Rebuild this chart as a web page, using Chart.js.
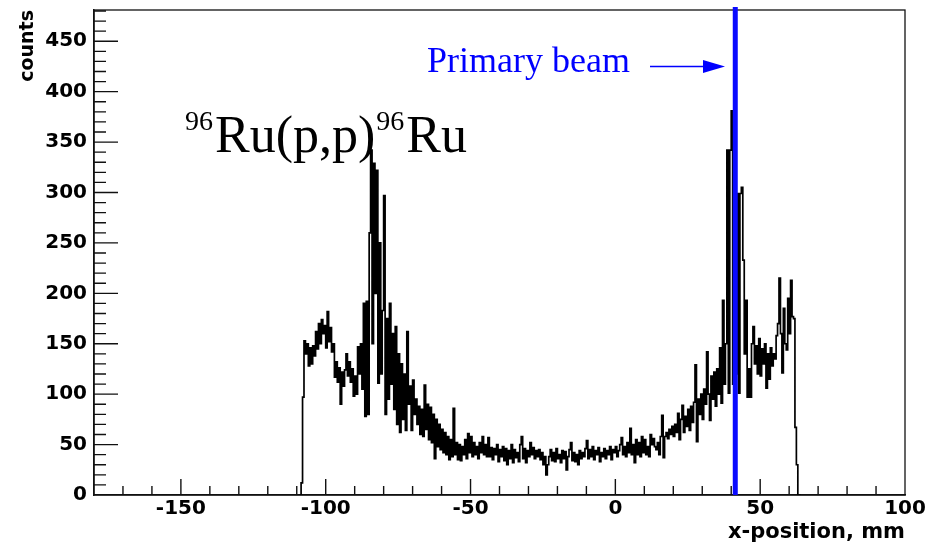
<!DOCTYPE html>
<html><head><meta charset="utf-8">
<script src="https://cdn.jsdelivr.net/npm/chart.js@4/dist/chart.umd.min.js"></script>
<style>html,body{margin:0;padding:0;background:#fff;} #wrap{width:944px;height:544px;position:relative;} canvas{display:block;}</style>
</head><body><div id="wrap"><canvas id="c" width="944" height="544"></canvas></div>
<script>
// Histogram: bin lower edge of first bin and bin width (mm)
const binLow = -109;
const binWidth = 0.5;
// counts per 0.5 mm bin, from -109 mm to 64 mm
const counts = [
  0,12,97,153,140,150,128,146,130,148,
  138,162,145,170,150,174,160,168,146,182,
  152,166,142,150,117,132,112,126,90,122,
  108,124,140,118,132,112,125,98,118,100,
  147,120,150,105,190,78,192,80,260,342,
  150,329,200,322,111,250,120,183,297,80,
  175,95,190,110,160,85,167,70,140,62,
  130,75,120,64,162,90,108,64,114,80,
  95,70,88,60,85,58,109,65,90,55,
  87,52,80,36,75,48,70,45,65,42,
  62,40,58,35,55,38,86,40,52,35,
  50,34,48,40,55,36,61,42,58,38,
  52,40,48,36,52,42,58,40,50,38,
  57,38,47,35,46,40,50,33,45,38,
  48,34,46,30,44,36,50,32,45,37,
  42,33,50,58,36,46,32,44,38,52,
  40,47,36,44,38,45,35,42,30,38,
  20,30,38,45,34,42,33,46,36,40,
  32,44,36,43,25,38,45,52,34,42,
  33,40,30,44,36,42,38,46,54,36,
  45,38,48,35,44,40,47,33,42,38,
  46,36,44,40,48,35,45,42,48,38,
  44,50,57,40,48,38,52,42,66,40,
  50,32,55,40,52,38,58,42,55,40,
  48,38,60,50,56,48,45,52,40,58,
  79,37,58,62,56,65,60,68,58,70,
  62,81,55,75,89,62,78,68,85,64,
  88,72,92,129,53,95,80,100,75,105,
  90,142,100,74,118,95,122,88,125,100,
  146,91,193,110,150,342,101,342,381,110,
  250,120,299,101,299,305,233,140,193,97,
  125,97,150,167,130,148,120,155,118,145,
  130,150,106,140,115,146,128,140,135,158,
  170,215,160,121,185,150,144,195,160,213,
  177,175,67,30,0,0
];
// primary beam marker (mm, counts)
const beamX = [41.4, 41.4];
const beamY = [0, 484];
// axis ranges and tick steps
const xLimits = [-180, 100];
const yLimits = [0, 481];
const majorStep = 50;
const minorStep = 10;
// texts
const xTitle = 'x-position, mm';
const yTitle = 'counts';
const beamLabel = 'Primary beam';
const reactionParts = [['96', true], ['Ru(p,p)', false], ['96', true], ['Ru', false]];

const histPoints = counts.map((v, i) => ({x: binLow + i * binWidth, y: v}));
histPoints.push({x: binLow + counts.length * binWidth, y: 0});
const beamPoints = beamX.map((x, i) => ({x: x, y: beamY[i]}));

const rootDecor = {
  id: 'rootDecor',
  beforeDatasetsDraw(chart) {
    const {ctx, chartArea: a, scales: {x, y}} = chart;
    ctx.save();
    ctx.strokeStyle = '#111';
    ctx.lineWidth = 1.4;
    ctx.beginPath();
    for (let v = Math.ceil(y.min / minorStep) * minorStep; v <= y.max; v += minorStep) {
      if (v === y.min) continue;
      const py = y.getPixelForValue(v);
      const len = (v % majorStep === 0) ? 24 : 12;
      ctx.moveTo(a.left, py); ctx.lineTo(a.left + len, py);
    }
    for (let v = Math.ceil(x.min / minorStep) * minorStep; v <= x.max; v += minorStep) {
      if (v === x.min || v === x.max) continue;
      const px = x.getPixelForValue(v);
      const len = (v % majorStep === 0) ? 16 : 9;
      ctx.moveTo(px, a.bottom); ctx.lineTo(px, a.bottom - len);
    }
    ctx.stroke();
    ctx.lineWidth = 1.3;
    ctx.strokeRect(a.left, a.top, a.right - a.left, a.bottom - a.top);
    ctx.restore();
  },
  afterDraw(chart) {
    const {ctx} = chart;
    ctx.save();
    ctx.textAlign = 'left';
    ctx.textBaseline = 'alphabetic';
    // primary beam label and arrow
    ctx.fillStyle = '#0000ff';
    ctx.strokeStyle = '#0000ff';
    ctx.font = '36px "Liberation Serif"';
    ctx.fillText(beamLabel, 427, 72);
    ctx.lineWidth = 1.3;
    ctx.beginPath(); ctx.moveTo(650, 66.5); ctx.lineTo(706, 66.5); ctx.stroke();
    ctx.beginPath(); ctx.moveTo(703, 60); ctx.lineTo(725, 66.5); ctx.lineTo(703, 73); ctx.closePath(); ctx.fill();
    // reaction label
    ctx.fillStyle = '#000';
    let px = 185;
    for (const [t, sup] of reactionParts) {
      ctx.font = (sup ? 28 : 52) + 'px "Liberation Serif"';
      ctx.fillText(t, px, sup ? 130 : 152);
      px += ctx.measureText(t).width + (sup ? 2 : 1);
    }
    ctx.restore();
  }
};

new Chart(document.getElementById('c'), {
  type: 'scatter',
  data: {
    datasets: [
      {
        data: beamPoints, showLine: true, borderColor: '#0a0aff', borderWidth: 5,
        pointRadius: 0, clip: false
      },
      {
        data: histPoints, showLine: true, stepped: 'before', borderColor: '#000',
        borderWidth: 1.7, pointRadius: 0
      }
    ]
  },
  options: {
    responsive: false, animation: false, devicePixelRatio: 1,
    layout: {padding: {top: 10, right: 39, bottom: 0, left: 0}},
    plugins: {legend: {display: false}, tooltip: {enabled: false}},
    scales: {
      x: {
        type: 'linear', min: xLimits[0], max: xLimits[1],
        grid: {display: true, drawOnChartArea: false, drawTicks: false},
        border: {display: true, color: '#111', width: 1.5},
        ticks: {stepSize: majorStep, includeBounds: false, maxRotation: 0, autoSkip: false,
                padding: 2, color: '#000', font: {family: '"DejaVu Sans"', weight: 'bold', size: 20}},
        title: {display: true, text: xTitle, align: 'end', color: '#000',
                font: {family: '"DejaVu Sans"', weight: 'bold', size: 21, lineHeight: 1},
                padding: {top: 0, bottom: 1}},
        afterFit(s) { s.height = 49; s.paddingLeft = 0; s.paddingRight = 0; }
      },
      y: {
        type: 'linear', min: yLimits[0], max: yLimits[1],
        grid: {display: true, drawOnChartArea: false, drawTicks: false},
        border: {display: true, color: '#111', width: 1.5},
        ticks: {stepSize: majorStep, includeBounds: false, padding: 7, color: '#000',
                font: {family: '"DejaVu Sans"', weight: 'bold', size: 20}},
        title: {display: true, text: yTitle, align: 'end', color: '#000',
                font: {family: '"DejaVu Sans"', weight: 'bold', size: 19, lineHeight: 1},
                padding: {top: 19, bottom: 0}},
        afterFit(s) { s.width = 94; s.paddingTop = 0; s.paddingBottom = 0; }
      }
    }
  },
  plugins: [rootDecor]
});
</script>
</body></html>
